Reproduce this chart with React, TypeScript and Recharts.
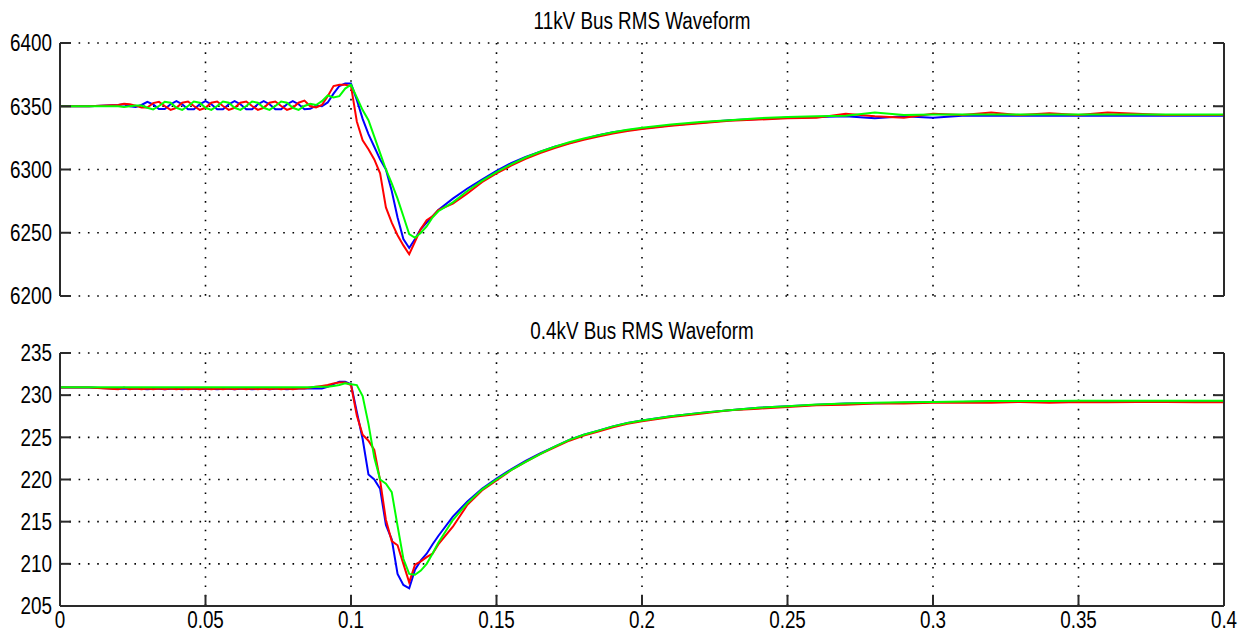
import { CartesianGrid, Line, LineChart, XAxis, YAxis } from 'recharts';

// sample times (s), shared by every trace
const time = [
  0, 0.01,
  0.02, 0.022, 0.024, 0.026, 0.028, 0.03, 0.032, 0.034, 0.036, 0.038,
  0.04, 0.042, 0.044, 0.046, 0.048, 0.05, 0.052, 0.054, 0.056, 0.058,
  0.06, 0.062, 0.064, 0.066, 0.068, 0.07, 0.072, 0.074, 0.076, 0.078,
  0.08, 0.082, 0.084, 0.086, 0.088, 0.09,
  0.092, 0.094, 0.096, 0.098, 0.1, 0.102, 0.104, 0.106, 0.108, 0.11,
  0.112, 0.114, 0.116, 0.118, 0.12, 0.122, 0.124, 0.126, 0.128, 0.13,
  0.135, 0.14, 0.145, 0.15, 0.155, 0.16, 0.165, 0.17, 0.175, 0.18, 0.185, 0.19, 0.195, 0.2,
  0.21, 0.22, 0.23, 0.24, 0.25, 0.26, 0.27, 0.28, 0.29, 0.3,
  0.31, 0.32, 0.33, 0.34, 0.35, 0.36, 0.37, 0.38, 0.39, 0.4,
];

// 11kV bus RMS (V)
const hvRed = [
  6350, 6350,
  6351, 6352, 6351.5, 6350.5, 6349, 6349, 6352.5, 6353.5, 6350.2, 6347.1,
  6348.8, 6352.8, 6353.7, 6350.2, 6347.1, 6348.8, 6352.8, 6353.7, 6350.2, 6347.1,
  6348.8, 6352.8, 6353.7, 6350.2, 6347.1, 6348.8, 6352.8, 6353.7, 6350.2, 6347.1,
  6348.8, 6352.8, 6354.5, 6350, 6349, 6351,
  6358, 6366, 6367, 6367, 6366, 6338, 6323, 6316, 6308, 6297,
  6270, 6258, 6248, 6240, 6233, 6243, 6253, 6260, 6263, 6268,
  6273, 6281, 6290, 6297, 6303, 6308.5, 6313, 6317, 6320.5, 6323.5, 6326, 6328.5, 6330.5, 6332,
  6334.5, 6336.5, 6338.5, 6339.5, 6340.5, 6341, 6344, 6342, 6341, 6344,
  6343, 6345, 6343, 6344.5, 6343, 6345, 6344, 6343, 6343, 6343,
];
const hvBlue = [
  6350, 6350,
  6351, 6351.5, 6350, 6349.5, 6351, 6353.5, 6351.5, 6347.8, 6347.8, 6351.6,
  6354, 6351.6, 6347.7, 6347.7, 6351.6, 6354, 6351.6, 6347.7, 6347.7, 6351.6,
  6354, 6351.6, 6347.7, 6347.7, 6351.6, 6354, 6351.6, 6347.7, 6347.7, 6351.6,
  6354, 6351.6, 6347.7, 6348, 6350.5, 6350,
  6353, 6360, 6366, 6368, 6368, 6355, 6340, 6328, 6318, 6308,
  6300, 6283, 6262, 6245, 6238, 6245, 6253, 6258, 6263, 6268,
  6277, 6285, 6292, 6299, 6305, 6310, 6314, 6318, 6321, 6324, 6327, 6329.5, 6331, 6332.5,
  6335, 6337, 6339, 6340, 6341, 6341.5, 6342, 6340.5, 6342, 6341,
  6342.5, 6342.5, 6342.5, 6342.5, 6342.5, 6342.5, 6342.5, 6342.5, 6342.5, 6342.5,
];
const hvGreen = [
  6350, 6350,
  6350, 6349.5, 6350, 6350.5, 6350.5, 6348.8, 6347.5, 6350.2, 6353.5, 6352.8,
  6348.8, 6347.1, 6350.2, 6353.7, 6352.8, 6348.8, 6347.1, 6350.2, 6353.7, 6352.8,
  6348.8, 6347.1, 6350.2, 6353.7, 6352.8, 6348.8, 6347.1, 6350.2, 6353.7, 6352.8,
  6348.8, 6347.1, 6350.2, 6352, 6351, 6354,
  6358.5, 6357, 6358, 6364, 6367, 6357, 6347, 6339, 6326, 6313,
  6300, 6289, 6277, 6263, 6249, 6246, 6250, 6255, 6262, 6267,
  6274, 6283, 6291, 6298, 6304, 6309.5, 6314, 6318, 6321.5, 6324.5, 6327, 6329.5, 6331.5, 6333,
  6335.5, 6337.5, 6339, 6340.5, 6341.5, 6342, 6342.5, 6345, 6343, 6343.5,
  6343.5, 6343.5, 6343.5, 6343.5, 6343.5, 6343.5, 6343.5, 6343.5, 6343.5, 6343.5,
];

// 0.4kV bus RMS (V)
const lvRed = [
  230.9, 230.9,
  230.7, 230.9, 230.7, 230.8, 230.7, 230.8, 230.7, 230.8, 230.7, 230.8,
  230.7, 230.8, 230.7, 230.8, 230.7, 230.8, 230.7, 230.8, 230.7, 230.8,
  230.7, 230.8, 230.7, 230.8, 230.7, 230.8, 230.7, 230.8, 230.7, 230.8,
  230.7, 230.8, 230.8, 230.9, 231.0, 231.1,
  231.2, 231.4, 231.5, 231.5, 231.2, 227.6, 225.3, 224.6, 223.5, 219.9,
  215.2, 212.7, 212.2, 210.0, 207.8, 209.9, 210.3, 210.8, 211.2, 212.3,
  214.4, 217.0, 218.7, 219.9, 221.1, 222.1, 223.0, 223.8, 224.6, 225.2, 225.7, 226.2, 226.6, 226.9,
  227.4, 227.8, 228.2, 228.4, 228.6, 228.8, 228.85, 229.0, 229.0, 229.1,
  229.1, 229.1, 229.2, 229.1, 229.2, 229.15, 229.2, 229.2, 229.15, 229.15,
];
const lvBlue = [
  230.9, 230.9,
  230.75, 230.75, 230.8, 230.75, 230.75, 230.7, 230.75, 230.75, 230.7, 230.75,
  230.75, 230.7, 230.75, 230.75, 230.7, 230.75, 230.75, 230.7, 230.75, 230.75,
  230.7, 230.75, 230.75, 230.7, 230.75, 230.75, 230.7, 230.75, 230.75, 230.7,
  230.75, 230.8, 230.8, 230.8, 230.8, 230.8,
  231.0, 231.3, 231.6, 231.6, 231.3, 228.0, 224.8, 220.6, 220.0, 218.9,
  214.6, 212.9, 208.8, 207.5, 207.1, 209.3, 210.4, 211.2, 212.3, 213.3,
  215.6, 217.4, 218.9, 220.1, 221.2, 222.2, 223.1, 223.9, 224.7, 225.3, 225.8, 226.3, 226.7, 227.0,
  227.5, 227.9, 228.2, 228.5, 228.7, 228.85, 229.0, 229.05, 229.1, 229.2,
  229.2, 229.25, 229.25, 229.3, 229.3, 229.3, 229.3, 229.3, 229.3, 229.3,
];
const lvGreen = [
  230.95, 230.95,
  230.95, 230.95, 230.95, 230.95, 230.95, 230.95, 230.95, 230.95, 230.95, 230.95,
  230.95, 230.95, 230.95, 230.95, 230.95, 230.95, 230.95, 230.95, 230.95, 230.95,
  230.95, 230.95, 230.95, 230.95, 230.95, 230.95, 230.95, 230.95, 230.95, 230.95,
  230.95, 230.95, 230.95, 230.95, 231.0, 231.0,
  231.0, 231.1, 231.2, 231.4, 231.3, 231.2, 229.9, 226.6, 222.6, 220.0,
  219.5, 218.5, 214.5, 210.6, 208.8, 208.7, 209.2, 210.0, 211.2, 212.5,
  215.2, 217.2, 218.8, 220.0, 221.1, 222.1, 223.0, 223.9, 224.7, 225.3, 225.8, 226.3, 226.7, 227.0,
  227.5, 227.9, 228.2, 228.5, 228.7, 228.9, 229.0, 229.1, 229.15, 229.2,
  229.25, 229.3, 229.3, 229.3, 229.35, 229.35, 229.35, 229.35, 229.35, 229.35,
];

const timeTicks = [0, 0.05, 0.1, 0.15, 0.2, 0.25, 0.3, 0.35, 0.4];
const hvTicks = [6200, 6250, 6300, 6350, 6400];
const lvTicks = [205, 210, 215, 220, 225, 230, 235];

const titles = ['11kV Bus RMS Waveform', '0.4kV Bus RMS Waveform'];

const FONT = "'Liberation Sans', Arial, sans-serif";
const FRAME = '#2a2a2a';
const TICK_LEN = 11;

const hvData = time.map((t, i) => ({ t, r: hvRed[i], b: hvBlue[i], g: hvGreen[i] }));
const lvData = time.map((t, i) => ({ t, r: lvRed[i], b: lvBlue[i], g: lvGreen[i] }));

// tall, narrow lettering like the old MATLAB figure font
const Txt = ({ x, y, anchor, dy, children }: any) => (
  <g transform={`translate(${x},${y}) scale(0.82,1)`}>
    <text x={0} y={0} dy={dy} textAnchor={anchor} fontSize={23} fontFamily={FONT} fill="#000">
      {children}
    </text>
  </g>
);

// MATLAB-like ticks: marks point into the plot, labels stay outside
const LeftTick = ({ x, y, payload }: any) => (
  <g>
    <line x1={x + 8} x2={x + 8 + TICK_LEN} y1={y} y2={y} stroke={FRAME} strokeWidth={2} />
    <Txt x={x} y={y} dy="0.36em" anchor="end">{payload.value}</Txt>
  </g>
);
const RightTick = ({ x, y }: any) => (
  <line x1={x - TICK_LEN} x2={x} y1={y} y2={y} stroke={FRAME} strokeWidth={2} />
);
const TopTick = ({ x, y }: any) => (
  <line x1={x} x2={x} y1={y} y2={y + TICK_LEN} stroke={FRAME} strokeWidth={2} />
);
const BottomMark = ({ x, y }: any) => (
  <line x1={x} x2={x} y1={y} y2={y - TICK_LEN} stroke={FRAME} strokeWidth={2} />
);
const BottomTick = ({ x, y, payload }: any) => (
  <g>
    <line x1={x} x2={x} y1={y - 6} y2={y - 6 - TICK_LEN} stroke={FRAME} strokeWidth={2} />
    <Txt x={x} y={y} dy="0.71em" anchor="middle">{payload.value}</Txt>
  </g>
);

function Panel({ data, domain, ticks, height, withLabels }: any) {
  const frame = { stroke: FRAME, strokeWidth: 2 };
  return (
    <LineChart
      width={1248}
      height={height}
      data={data}
      margin={{ top: 43, right: 0, bottom: withLabels ? 0 : 14, left: 0 }}
    >
      <CartesianGrid stroke="#000" strokeWidth={1.6} strokeDasharray="1.6 7.7" />
      <XAxis
        dataKey="t"
        type="number"
        domain={[0, 0.4]}
        ticks={timeTicks}
        interval={0}
        height={withLabels ? 28 : 0}
        tickSize={0}
        tickMargin={withLabels ? 6 : 0}
        axisLine={frame}
        tickLine={false}
        tick={withLabels ? BottomTick : BottomMark}
        allowDataOverflow
      />
      <XAxis
        xAxisId="top"
        orientation="top"
        dataKey="t"
        type="number"
        domain={[0, 0.4]}
        ticks={timeTicks}
        interval={0}
        height={0}
        tickSize={0}
        tickMargin={0}
        axisLine={frame}
        tickLine={false}
        tick={TopTick}
        allowDataOverflow
      />
      <YAxis
        type="number"
        domain={domain}
        ticks={ticks}
        interval={0}
        width={60}
        tickSize={0}
        tickMargin={8}
        axisLine={frame}
        tickLine={false}
        tick={LeftTick}
        allowDataOverflow
      />
      <YAxis
        yAxisId="right"
        orientation="right"
        type="number"
        domain={domain}
        ticks={ticks}
        interval={0}
        width={24}
        tickSize={0}
        tickMargin={0}
        axisLine={frame}
        tickLine={false}
        tick={RightTick}
        allowDataOverflow
      />
      <Line type="linear" dataKey="b" stroke="#0000ff" strokeWidth={2} dot={false} isAnimationActive={false} />
      <Line type="linear" dataKey="r" stroke="#ff0000" strokeWidth={2} dot={false} isAnimationActive={false} />
      <Line type="linear" dataKey="g" stroke="#00ff00" strokeWidth={2} dot={false} isAnimationActive={false} />
    </LineChart>
  );
}

export default function App() {
  return (
    <div
      style={{
        position: 'absolute',
        left: 0,
        top: 0,
        width: 1248,
        height: 634,
        background: '#fff',
        overflow: 'hidden',
      }}
    >
      <div style={{ position: 'absolute', left: 0, top: 0 }}>
        <Panel data={hvData} domain={[6200, 6400]} ticks={hvTicks} height={310} withLabels={false} />
      </div>
      <div style={{ position: 'absolute', left: 0, top: 310 }}>
        <Panel data={lvData} domain={[205, 235]} ticks={lvTicks} height={324} withLabels />
      </div>
      <svg
        width={1248}
        height={634}
        style={{ position: 'absolute', left: 0, top: 0, pointerEvents: 'none' }}
      >
        <Txt x={642} y={29} anchor="middle">{titles[0]}</Txt>
        <Txt x={642} y={339} anchor="middle">{titles[1]}</Txt>
      </svg>
    </div>
  );
}
